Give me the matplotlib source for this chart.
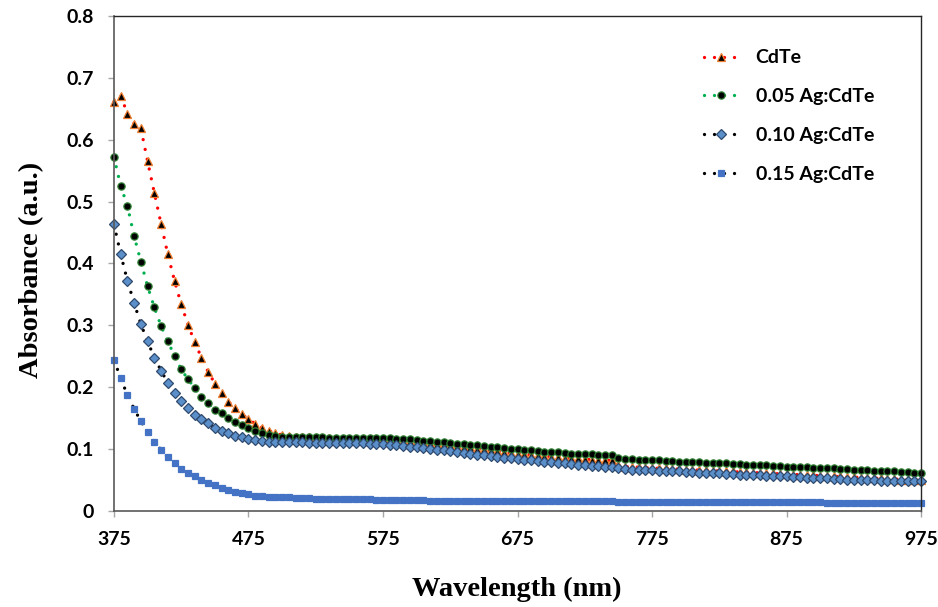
import numpy as np
import matplotlib
matplotlib.use("Agg")
import matplotlib.pyplot as plt

# wavelength grid (nm), one reading every 5 nm
wavelength = np.arange(375, 980, 5)

cdte = [
    0.661, 0.671, 0.642, 0.626, 0.618, 0.565, 0.514, 0.464, 0.415, 0.372,
    0.334, 0.301, 0.273, 0.248, 0.225, 0.206, 0.191, 0.177, 0.166, 0.157,
    0.148, 0.141, 0.135, 0.130, 0.126, 0.123, 0.121, 0.120, 0.119, 0.119,
    0.118, 0.118, 0.118, 0.117, 0.117, 0.117, 0.117, 0.117, 0.117, 0.116,
    0.116, 0.116, 0.115, 0.114, 0.113, 0.112, 0.111, 0.110, 0.109, 0.108,
    0.107, 0.105, 0.104, 0.103, 0.101, 0.100, 0.098, 0.097, 0.096, 0.094,
    0.093, 0.092, 0.091, 0.090, 0.089, 0.088, 0.087, 0.086, 0.085, 0.085,
    0.084, 0.083, 0.083, 0.082, 0.082,
    0.075, 0.072, 0.071, 0.071, 0.070, 0.070, 0.069, 0.069, 0.068, 0.068,
    0.067, 0.067, 0.066, 0.066, 0.065, 0.065, 0.064, 0.064, 0.063, 0.063,
    0.062, 0.062, 0.061, 0.061, 0.060, 0.060, 0.059, 0.059, 0.058, 0.058,
    0.057, 0.057, 0.056, 0.056, 0.055, 0.055, 0.054, 0.054, 0.053, 0.053,
    0.052, 0.052, 0.051, 0.051, 0.050, 0.050,
]

ag005 = [
    0.572, 0.525, 0.493, 0.444, 0.403, 0.363, 0.329, 0.299, 0.274, 0.251,
    0.229, 0.213, 0.199, 0.185, 0.174, 0.164, 0.158, 0.151, 0.144, 0.139,
    0.134, 0.130, 0.126, 0.123, 0.121, 0.120, 0.120, 0.119, 0.119, 0.119,
    0.119, 0.119, 0.118, 0.118, 0.118, 0.118, 0.118, 0.118, 0.118, 0.118,
    0.118, 0.118, 0.117, 0.117, 0.116, 0.115, 0.114, 0.113, 0.112, 0.111,
    0.110, 0.109, 0.108, 0.107, 0.106, 0.105, 0.104, 0.103, 0.102, 0.101,
    0.100, 0.099, 0.098, 0.097, 0.096, 0.095, 0.095, 0.094, 0.093, 0.093,
    0.092, 0.092, 0.091, 0.091, 0.090,
    0.085, 0.084, 0.084, 0.083, 0.083, 0.082, 0.082, 0.081, 0.081, 0.080,
    0.080, 0.079, 0.079, 0.078, 0.078, 0.077, 0.077, 0.076, 0.076, 0.075,
    0.075, 0.074, 0.074, 0.073, 0.073, 0.072, 0.072, 0.071, 0.071, 0.070,
    0.070, 0.069, 0.069, 0.068, 0.068, 0.067, 0.066, 0.066, 0.065, 0.065,
    0.064, 0.064, 0.063, 0.063, 0.062, 0.061,
]

ag010 = [
    0.463, 0.415, 0.372, 0.336, 0.302, 0.274, 0.248, 0.227, 0.207, 0.191,
    0.178, 0.166, 0.156, 0.148, 0.142, 0.135, 0.130, 0.126, 0.122, 0.119,
    0.116, 0.115, 0.113, 0.112, 0.112, 0.111, 0.111, 0.111, 0.111, 0.110,
    0.110, 0.110, 0.110, 0.110, 0.110, 0.110, 0.110, 0.110, 0.109, 0.109,
    0.108, 0.107, 0.106, 0.105, 0.104, 0.103, 0.102, 0.101, 0.099, 0.098,
    0.097, 0.095, 0.094, 0.093, 0.091, 0.090, 0.089, 0.088, 0.086, 0.085,
    0.084, 0.083, 0.082, 0.081, 0.080, 0.079, 0.078, 0.077, 0.076, 0.075,
    0.074, 0.073, 0.073, 0.072, 0.072,
    0.069, 0.068, 0.067, 0.067, 0.066, 0.066, 0.065, 0.065, 0.064, 0.064,
    0.063, 0.063, 0.062, 0.062, 0.061, 0.061, 0.060, 0.060, 0.059, 0.059,
    0.058, 0.058, 0.057, 0.057, 0.056, 0.056, 0.055, 0.055, 0.054, 0.054,
    0.053, 0.053, 0.052, 0.052, 0.051, 0.051, 0.050, 0.050, 0.050, 0.049,
    0.049, 0.049, 0.048, 0.048, 0.048, 0.048,
]

ag015 = [
    0.244, 0.215, 0.187, 0.165, 0.145, 0.128, 0.112, 0.099, 0.087, 0.077,
    0.068, 0.062, 0.056, 0.050, 0.046, 0.042, 0.037, 0.034, 0.031, 0.029,
    0.027, 0.025, 0.024, 0.023, 0.023, 0.022, 0.022, 0.021, 0.021, 0.021,
    0.020, 0.020, 0.020, 0.020, 0.019, 0.019, 0.019, 0.019, 0.019, 0.018,
    0.018, 0.018, 0.018, 0.018, 0.018, 0.018, 0.018, 0.017, 0.017, 0.017,
    0.017, 0.017, 0.017, 0.017, 0.017, 0.017, 0.017, 0.017, 0.017, 0.017,
    0.017, 0.016, 0.016, 0.016, 0.016, 0.016, 0.016, 0.016, 0.016, 0.016,
    0.016, 0.016, 0.016, 0.016, 0.016,
    0.015, 0.015, 0.015, 0.015, 0.015, 0.015, 0.015, 0.015, 0.015, 0.015,
    0.015, 0.014, 0.014, 0.014, 0.014, 0.014, 0.014, 0.014, 0.014, 0.014,
    0.014, 0.014, 0.014, 0.014, 0.014, 0.014, 0.014, 0.014, 0.014, 0.014,
    0.014, 0.013, 0.013, 0.013, 0.013, 0.013, 0.013, 0.013, 0.013, 0.013,
    0.013, 0.013, 0.013, 0.013, 0.013, 0.013,
]

labels = ["CdTe", "0.05 Ag:CdTe", "0.10 Ag:CdTe", "0.15 Ag:CdTe"]
x_ticks = [375, 475, 575, 675, 775, 875, 975]
y_ticks = [0, 0.1, 0.2, 0.3, 0.4, 0.5, 0.6, 0.7, 0.8]

# (line colour, marker, face, edge, size)
styles = [
    ("#FF0000", "^", "#000000", "#ED7D31", 5.5),
    ("#00B050", "o", "#000000", "#2E7D32", 5.2),
    ("#000000", "D", "#5B8FC9", "#2F4A6E", 4.6),
    ("#000000", "s", "#4472C4", "#4472C4", 5.0),
]

tick_font = dict(family="Lato", weight="bold", size=14)
label_font = dict(family="Liberation Serif", weight="bold", size=20.5)

fig = plt.figure(figsize=(9.38, 6.07), dpi=100)
ax = fig.add_axes([0.1215, 0.158, 0.8605, 0.816])

series = [cdte, ag005, ag010, ag015]
for vals, lab, (lc, mk, fc, ec, ms) in zip(series, labels, styles):
    ax.plot(wavelength, vals, color=lc, lw=2.4, linestyle=(0, (0.001, 3.0)),
            dash_capstyle="round", marker=mk, markersize=ms,
            markerfacecolor=fc, markeredgecolor=ec, markeredgewidth=0.9,
            label=lab, clip_on=False)

ax.set_xlim(375, 975)
ax.set_ylim(0, 0.8)
ax.set_xticks(x_ticks)
ax.set_yticks(y_ticks)
ax.set_xticklabels([str(v) for v in x_ticks], fontdict=tick_font)
ax.set_yticklabels(["0" if v == 0 else f"{v:.1f}" for v in y_ticks], fontdict=tick_font)
ax.tick_params(axis="both", direction="out", length=4.5, width=1.0,
               color="#A6A6A6", pad=10)

for side in ["left", "bottom"]:
    ax.spines[side].set_color("#595959")
    ax.spines[side].set_linewidth(1.2)
for side in ["top", "right"]:
    ax.spines[side].set_color("#262626")
    ax.spines[side].set_linewidth(1.0)

ax.set_xlabel("Wavelength (nm)", fontdict=label_font)
ax.set_ylabel("Absorbance (a.u.)", fontdict=label_font)
ax.xaxis.set_label_coords(0.499, -0.132)
ax.yaxis.set_label_coords(-0.087, 0.487)

leg = ax.legend(loc="upper left", bbox_to_anchor=(0.731, 0.932), frameon=False,
                numpoints=1, handlelength=1.8, handletextpad=0.85,
                labelspacing=1.12, borderpad=0, borderaxespad=0,
                prop=dict(family="Lato", weight="bold", size=14))

fig.savefig("out.png", dpi=100)
